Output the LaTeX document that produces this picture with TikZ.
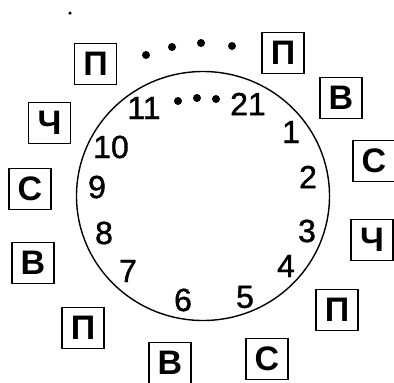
\documentclass[tikz,border=0pt]{standalone}
\usepackage{fontspec}
\setmainfont{Liberation Sans}
\newfontfamily\numfont[FakeBold=1.2]{Liberation Sans}
\begin{document}
\begin{tikzpicture}[x=1pt,y=-1pt,
  letterbox/.style={draw,line width=1.4pt,minimum width=42pt,minimum height=41pt,inner sep=0pt,font=\fontsize{34}{34}\selectfont\bfseries},
  hournum/.style={inner sep=0pt,font=\fontsize{32}{32}\numfont},
  bigdot/.style={fill,circle,inner sep=0pt,minimum size=8pt}]
\useasboundingbox (0,0) rectangle (394,383);
\draw[line width=1.4pt] (203,196) ellipse [x radius=126.5, y radius=124.5];
% letter boxes
\node[letterbox] (b1) at (95.5,64) {П};
\node[letterbox] (b2) at (49.5,123) {Ч};
\node[letterbox] (b3) at (30,189) {С};
\node[letterbox] (b4) at (33,263) {В};
\node[letterbox] (b5) at (83,328) {П};
\node[letterbox] (b6) at (170,363) {В};
\node[letterbox] (b7) at (267,359) {С};
\node[letterbox] (b8) at (337,310) {П};
\node[letterbox] (b9) at (372,240) {Ч};
\node[letterbox] (b10) at (374,161) {С};
\node[letterbox] (b11) at (341,98) {В};
\node[letterbox] (b12) at (283,53) {П};
% outer dots
\node[bigdot] (o1) at (146,55) {};
\node[bigdot] (o2) at (172,47) {};
\node[bigdot] (o3) at (201,43) {};
\node[bigdot] (o4) at (232,46) {};
% inner dots
\node[bigdot] (i1) at (178,101) {};
\node[bigdot] (i2) at (197,98) {};
\node[bigdot] (i3) at (216,99) {};
\node[fill,circle,inner sep=0pt,minimum size=3.5pt] (stray) at (70,13) {};
% numbers
\node[hournum] (n11) at (144,108) {11};
\node[hournum] (n21) at (248,104) {21};
\node[hournum] (n1) at (291,132) {1};
\node[hournum] (n2) at (308,177) {2};
\node[hournum] (n3) at (307,231) {3};
\node[hournum] (n4) at (286,266) {4};
\node[hournum] (n5) at (245,297) {5};
\node[hournum] (n6) at (183,300) {6};
\node[hournum] (n7) at (128,271) {7};
\node[hournum] (n8) at (104,233) {8};
\node[hournum] (n9) at (97,187) {9};
\node[hournum] (n10) at (111,147) {10};
\end{tikzpicture}
\end{document}
